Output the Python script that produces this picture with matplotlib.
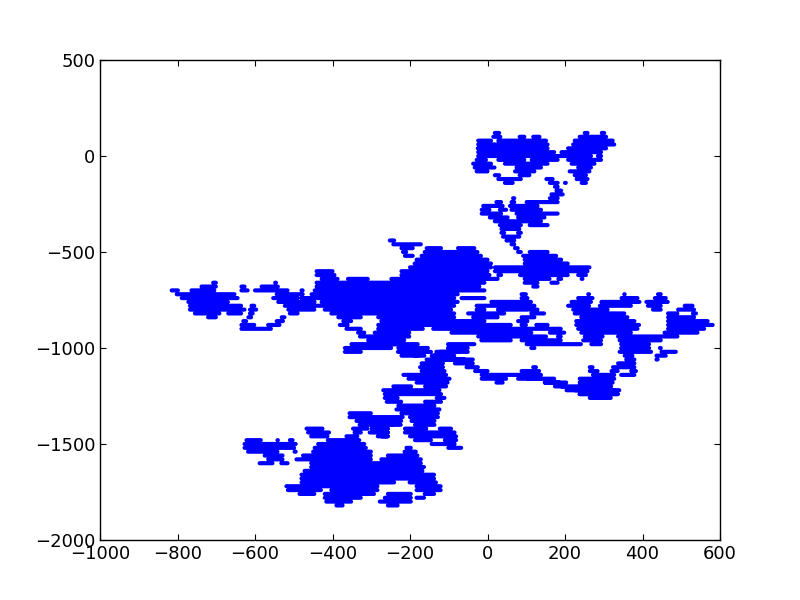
import matplotlib
matplotlib.use("Agg")
import matplotlib.pyplot as plt

# walk: for each y, the x stretches it covers
top_y = [120, 100, 80, 60, 40, 20, 0, -20, -40, -60,
         -80, -100, -120, -140, -160, -180, -200, -220, -240, -260,
         -280, -300, -320, -340, -360, -380, -400, -420, -440, -460, -480]
top_x = [
    [14, 35, 246, 263, 290, 306],
    [10, 38, 78, 100, 113, 139, 233, 311],
    [-29, 14, 23, 156, 220, 328],
    [-29, 160, 216, 332],
    [-30, 160, 203, 311],
    [-29, 177, 186, 298],
    [-29, 272, 280, 298],
    [-33, 1, 23, 100, 109, 186, 203, 298],
    [-42, 14, 40, 160, 212, 281],
    [-38, 23, 70, 143, 229, 272],
    [-33, 5, 66, 126, 207, 268],
    [14, 35, 78, 113, 220, 259],
    [23, 91, 147, 173, 225, 263],
    [40, 70, 156, 186, 195, 207, 238, 259],
    [169, 186],
    [173, 195],
    [160, 199],
    [61, 74, 156, 186],
    [18, 40, 57, 74, 96, 186],
    [-16, 44, 53, 134],
    [-20, 10, 27, 53, 57, 143],
    [-20, 40, 70, 186],
    [1, 57, 74, 152],
    [14, 143],
    [27, 91, 104, 160],
    [31, 87],
    [31, 48, 74, 91],
    [35, 87],
    [44, 74],
    [57, 74],
    [66, 83],
]

blob_y = [-500, -520, -540, -560, -580, -600, -620, -640, -660, -680]
blob_x = [
    [74, 91, 104, 160],
    [87, 182],
    [91, 195],
    [91, 212],
    [14, 268],
    [14, 263],
    [23, 40, 79, 212, 229, 259],
    [91, 165, 178, 195, 238, 250],
    [91, 134, 160, 186],
    [113, 134],
]

centre_y = [-440, -460, -480, -500, -520, -540, -560, -580, -600, -620,
            -640, -660, -680, -700, -720, -740, -760, -780, -800, -820,
            -840, -860, -880, -900, -920, -940, -960, -980, -1000, -1020,
            -1040, -1060]
centre_x = [
    [-257, -236],
    [-248, -167],
    [-227, -188, -162, -115, -81, -29],
    [-223, -205, -167, -21],
    [-218, -188, -175, -12],
    [-188, 5],
    [-193, 14],
    [-205, 14],
    [-446, -395, -227, 5],
    [-446, -390, -227, 10, 83, 108],
    [-433, -382, -365, -304, -253, 31],
    [-446, -3],
    [-446, -16],
    [-485, -472, -451, -3],
    [-459, -72],
    [-485, -81, -72, -3],
    [-485, -442, -433, -72, 5, 108],
    [-485, -81, -33, 108],
    [-425, -89, -33, -3, 22, 108],
    [-408, -81, -55, 48],
    [-390, -322, -287, -81, -42, 31],
    [-377, -347, -279, -3, 74, 108],
    [-386, -356, -287, 65],
    [-369, -322, -287, -162, -145, 108],
    [-339, -313, -296, -197, -98, 108],
    [-334, -197, -29, 108],
    [-313, -210, -21, 65],
    [-356, -227, -107, -29],
    [-373, -244, -107, -46],
    [-373, -322, -236, -150, -137, -46],
    [-227, -158, -145, -81],
    [-145, -55],
]

west_y = [-660, -680, -700, -720, -740, -760, -780, -800, -820, -840, -860, -880, -900]
west_x = [
    [-713, -696, -553, -541],
    [-743, -696, -640, -622, -588, -536],
    [-820, -794, -769, -700, -640, -614, -605, -511],
    [-807, -648, -640, -630, -549, -472],
    [-794, -640, -558, -485],
    [-777, -665, -545, -442],
    [-773, -631, -614, -597, -528, -442],
    [-773, -622, -618, -592, -519, -442],
    [-760, -687, -674, -631, -618, -601, -515, -485],
    [-726, -696, -622, -605, -536, -519],
    [-635, -618, -549, -523],
    [-640, -597, -571, -532],
    [-640, -554],
]

east_y = [-720, -740, -760, -780, -800, -820, -840, -860, -880, -900,
          -920, -940, -960, -980, -1000, -1020, -1040, -1060, -1080, -1100,
          -1120, -1140, -1160, -1180, -1200, -1220, -1240, -1260]
east_x = [
    [83, 104, 255, 267, 349, 358, 435, 452],
    [83, 108, 229, 276, 341, 392, 427, 465],
    [91, 117, 212, 272, 289, 397, 405, 470],
    [100, 126, 203, 267, 285, 375, 409, 452, 504, 534],
    [104, 134, 216, 315, 422, 452, 487, 538],
    [108, 151, 220, 358, 461, 495, 525, 543],
    [83, 126, 237, 366, 461, 538],
    [83, 100, 224, 384, 461, 573],
    [83, 104, 121, 160, 224, 396, 461, 586],
    [100, 194, 229, 392, 461, 564],
    [83, 118, 156, 203, 237, 375, 452, 547],
    [83, 156, 177, 194, 246, 302, 332, 495],
    [83, 194, 242, 298, 336, 452],
    [96, 246, 263, 298, 340, 422],
    [108, 126, 340, 422, 440, 452],
    [336, 427, 444, 491],
    [349, 379, 431, 465],
    [353, 384, 431, 444],
    [332, 384],
    [113, 130, 259, 276, 319, 384],
    [83, 138, 259, 289, 315, 341, 366, 388],
    [83, 143, 267, 332, 340, 384],
    [100, 177, 233, 332],
    [143, 190, 233, 328],
    [169, 203, 233, 310],
    [199, 332],
    [233, 341],
    [259, 323],
]

column_y = [-980, -1000, -1020, -1040, -1060, -1080, -1100, -1120, -1140, -1160,
            -1180, -1200, -1220, -1240, -1260, -1280, -1300, -1320, -1340, -1360,
            -1380, -1400, -1420, -1440, -1460, -1480, -1500, -1520]
column_x = [
    [-304, -175],
    [-235, -149],
    [-231, -141, -128, -72],
    [-192, -175, -149, -85],
    [-162, -33],
    [-175, -110, -89, -33],
    [-179, -110, -59, -20],
    [-175, -106, -37, 5, 118, 126],
    [-222, -102, -20, 135],
    [-209, -93, -20, 53, 74, 143],
    [-188, -98, 18, 44, 143, 208, 234, 315],
    [-248, -192, -166, -102, 186, 324],
    [-274, -119, 221, 345],
    [-270, -115, 233, 341],
    [-270, -227, -136, -106],
    [-265, -218, -166, -115],
    [-235, -132],
    [-240, -119],
    [-227, -123],
    [-304, -214, -205, -123],
    [-304, -218, -201, -132],
    [-304, -240, -192, -132],
    [-304, -252, -218, -153, -128, -89],
    [-287, -252, -218, -80],
    [-278, -252, -205, -76],
    [-192, -141, -115, -76],
    [-149, -80],
    [-106, -63],
]

south_y = [-1340, -1360, -1380, -1400, -1420, -1440, -1460, -1480, -1500, -1520,
           -1540, -1560, -1580, -1600, -1620, -1640, -1660, -1680, -1700, -1720,
           -1740, -1760, -1780, -1800, -1820]
south_x = [
    [-361, -296],
    [-361, -296],
    [-343, -236],
    [-335, -219],
    [-472, -421, -352, -305, -300, -253],
    [-468, -404, -348, -322, -309, -253],
    [-460, -408, -369, -331, -288, -253],
    [-627, -580, -546, -537, -515, -498, -417, -326],
    [-632, -490, -442, -313],
    [-632, -494, -451, -309, -214, -193],
    [-623, -537, -503, -490, -455, -296, -219, -180],
    [-580, -524, -481, -296, -262, -176],
    [-571, -524, -498, -296, -279, -167],
    [-593, -550, -537, -511, -460, -167],
    [-460, -159],
    [-477, -163],
    [-485, -133],
    [-485, -133],
    [-485, -236, -206, -128],
    [-524, -279, -188, -116],
    [-520, -425, -408, -279, -188, -116],
    [-490, -442, -425, -288, -262, -193, -167, -133],
    [-425, -322, -270, -193, -188, -159],
    [-421, -347, -283, -193],
    [-395, -369, -262, -227],
]

regions = [
    (top_y, top_x), (blob_y, blob_x), (centre_y, centre_x),
    (west_y, west_x), (east_y, east_x), (column_y, column_x), (south_y, south_x),
]

plt.rcParams["font.size"] = 13
plt.rcParams["xtick.direction"] = "in"
plt.rcParams["ytick.direction"] = "in"
plt.rcParams["xtick.top"] = True
plt.rcParams["ytick.right"] = True
plt.rcParams["xtick.major.size"] = 4
plt.rcParams["ytick.major.size"] = 4
plt.rcParams["axes.linewidth"] = 1

fig = plt.figure(figsize=(8, 6), dpi=100)
ax = fig.add_axes([0.125, 0.1, 0.775, 0.8])

# one line with gaps, broken wherever a row stops
# round ends stick out about 5 units, so pull each stretch in by that much
walk_x = []
walk_y = []
for ys, spans in regions:
    for y, row in zip(ys, spans):
        for i in range(0, len(row), 2):
            walk_x += [row[i] + 5, row[i + 1] - 5, None]
            walk_y += [y, y, None]

ax.plot(walk_x, walk_y, color="#0000ff", linewidth=3, solid_capstyle="round")

ax.set_xlim(-1000, 600)
ax.set_ylim(-2000, 500)
ax.set_xticks(range(-1000, 601, 200))
ax.set_yticks(range(-2000, 501, 500))

fig.savefig("out.png", dpi=100)
